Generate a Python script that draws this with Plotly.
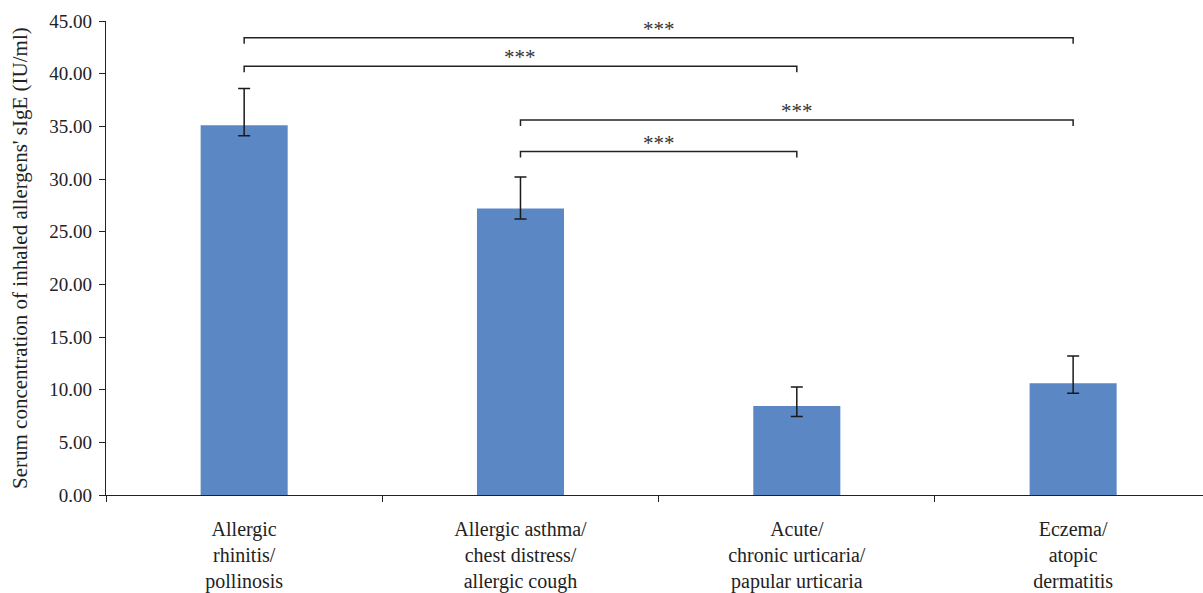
import plotly.graph_objects as go

# Disease groups and serum sIgE to inhaled allergens (IU/ml)
categories = [
    "Allergic<br>rhinitis/<br>pollinosis",
    "Allergic asthma/<br>chest distress/<br>allergic cough",
    "Acute/<br>chronic urticaria/<br>papular urticaria",
    "Eczema/<br>atopic<br>dermatitis",
]
means = [35.1, 27.2, 8.45, 10.6]
err_plus = [3.5, 3.0, 1.8, 2.6]
err_minus = [1.0, 1.0, 1.0, 0.95]

# Pairwise comparisons: (group a, group b, bracket height, label)
comparisons = [
    (0, 3, 43.4, "***"),
    (0, 2, 40.7, "***"),
    (1, 3, 35.6, "***"),
    (1, 2, 32.6, "***"),
]
y_ticks = [0, 5, 10, 15, 20, 25, 30, 35, 40, 45]

serif = "Liberation Serif, Times New Roman, serif"
bar_color = "#5B87C4"

fig = go.Figure()
fig.add_trace(go.Bar(
    x=categories,
    y=means,
    width=0.315,
    marker=dict(color=bar_color, line=dict(width=0)),
    error_y=dict(
        type="data",
        symmetric=False,
        array=err_plus,
        arrayminus=err_minus,
        color="#1a1a1a",
        thickness=1.5,
        width=6,
    ),
    showlegend=False,
))

shapes = []
annotations = []
drop = 0.57
for a, b, h, label in comparisons:
    shapes.append(dict(
        type="path",
        xref="x", yref="y",
        path=f"M {a},{h - drop} L {a},{h} L {b},{h} L {b},{h - drop}",
        line=dict(color="#222222", width=1.5),
    ))
    annotations.append(dict(
        x=(a + b) / 2, y=h, xref="x", yref="y",
        text=label, showarrow=False, yanchor="bottom", yshift=-5,
        font=dict(family=serif, size=21, color="#333333"),
    ))

annotations.append(dict(
    x=-86 / 1097, y=0.5, xref="paper", yref="paper",
    text="Serum concentration of inhaled allergens' sIgE (IU/ml)",
    textangle=-90, showarrow=False, xanchor="center", yanchor="middle",
    font=dict(family=serif, size=21, color="#222222"),
))

fig.update_layout(
    width=1203, height=593,
    margin=dict(l=106, r=0, t=21, b=98),
    paper_bgcolor="white",
    plot_bgcolor="white",
    shapes=shapes,
    annotations=annotations,
    bargap=0.6,
    xaxis=dict(
        type="category",
        range=[-0.5, 3.47],
        showline=True, linecolor="#222222", linewidth=1.2,
        ticks="outside", tickson="boundaries", ticklen=6,
        tickcolor="#222222", tickwidth=1.2,
        tickfont=dict(family=serif, size=20, color="#222222"),
        ticklabelstandoff=16,
        showgrid=False, zeroline=False,
    ),
    yaxis=dict(
        range=[0, 45],
        tickvals=y_ticks,
        ticktext=[f"{v:.2f}" for v in y_ticks],
        showline=True, linecolor="#222222", linewidth=1.2,
        ticks="outside", ticklen=6, tickcolor="#222222", tickwidth=1.2,
        tickfont=dict(family=serif, size=19, color="#222222"),
        ticklabelstandoff=3,
        showgrid=False, zeroline=False,
    ),
)

fig.write_html("out.html")
